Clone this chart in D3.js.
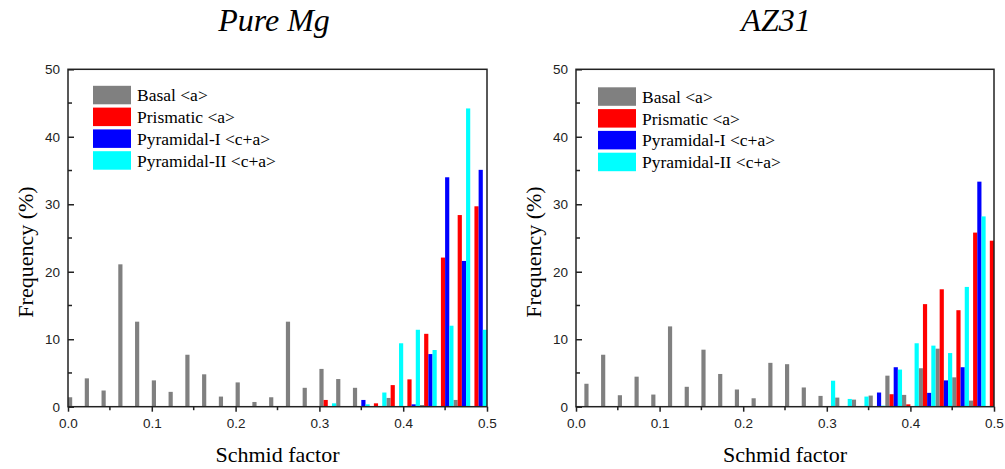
<!DOCTYPE html>
<html>
<head>
<meta charset="utf-8">
<script src="https://cdn.jsdelivr.net/npm/d3@7"></script>
<style>
  body { margin: 0; background: #fff; }
  svg { display: block; }
</style>
</head>
<body>
<svg id="chart"></svg>
<script>
// Slip systems and their colours
const systems = ["Basal <a>", "Prismatic <a>", "Pyramidal-I <c+a>", "Pyramidal-II <c+a>"];
const colors = ["#808080", "#ff0000", "#0000ff", "#00ffff"];

// Pure Mg: bins of width 0.02, centres 0.01 ... 0.49
const pureCenters = [0.01, 0.03, 0.05, 0.07, 0.09, 0.11, 0.13, 0.15, 0.17, 0.19, 0.21, 0.23, 0.25,
                     0.27, 0.29, 0.31, 0.33, 0.35, 0.37, 0.39, 0.41, 0.43, 0.45, 0.47, 0.49];
const pureBasal = [1.4, 4.2, 2.4, 21.1, 12.6, 3.9, 2.2, 7.7, 4.8, 1.5, 3.6, 0.7, 1.4,
                   12.6, 2.8, 5.6, 4.1, 2.8, 0, 1.3, 0, 0.25, 0, 1.0, 0];
const purePrism = [0, 0, 0, 0, 0, 0, 0, 0, 0, 0, 0, 0, 0,
                   0, 0, 1.0, 0, 0, 0.5, 3.2, 4.05, 10.8, 22.1, 28.4, 29.7];
const purePyr1  = [0, 0, 0, 0, 0, 0, 0, 0, 0, 0, 0, 0, 0,
                   0, 0, 0, 0, 1.0, 0, 0, 0.35, 7.8, 34.0, 21.6, 35.1];
const purePyr2  = [0, 0, 0, 0, 0, 0, 0, 0, 0, 0, 0, 0, 0,
                   0, 0, 0.5, 0, 0.35, 2.1, 9.4, 11.4, 8.4, 12.0, 44.2, 11.4];

// AZ31: bins of width 0.02, centres 0.00 ... 0.50
const azCenters = [0.00, 0.02, 0.04, 0.06, 0.08, 0.10, 0.12, 0.14, 0.16, 0.18, 0.20, 0.22, 0.24,
                   0.26, 0.28, 0.30, 0.32, 0.34, 0.36, 0.38, 0.40, 0.42, 0.44, 0.46, 0.48, 0.50];
const azBasal = [0, 3.4, 7.7, 1.7, 4.45, 1.8, 11.9, 2.95, 8.45, 4.85, 2.55, 1.25, 6.5,
                 6.3, 2.85, 1.6, 1.35, 1.05, 1.65, 4.6, 1.75, 5.7, 8.6, 4.35, 0.9, 0];
const azPrism = [0, 0, 0, 0, 0, 0, 0, 0, 0, 0, 0, 0, 0,
                 0, 0, 0, 0, 0, 0.1, 1.85, 0.35, 15.2, 17.4, 14.3, 25.8, 24.6];
const azPyr1  = [0, 0, 0, 0, 0, 0, 0, 0, 0, 0, 0, 0, 0,
                 0, 0, 0, 0, 0, 2.1, 5.85, 0, 2.05, 3.9, 5.85, 33.35, 0];
const azPyr2  = [0, 0, 0, 0, 0, 0, 0, 0, 0, 0, 0, 0, 0.1,
                 0, 0.1, 3.85, 1.15, 1.5, 0.15, 5.5, 9.4, 9.05, 7.95, 17.75, 28.2, 0];

// Axis ticks
const xTicks = [0.0, 0.1, 0.2, 0.3, 0.4, 0.5];
const xMinor = [0.05, 0.15, 0.25, 0.35, 0.45];
const yTicks = [0, 10, 20, 30, 40, 50];
const yMinor = [5, 15, 25, 35, 45];

const binWidth = 0.02;

const W = 1005, H = 469;
const svg = d3.select("#chart").attr("width", W).attr("height", H);

const serif = "'Liberation Serif', 'Times New Roman', serif";
const sans = "'Liberation Sans', Arial, sans-serif";

const panels = [
  { id: "pure", title: "Pure Mg", titleX: 274, left: 68, right: 487,
    centers: pureCenters, series: [pureBasal, purePrism, purePyr1, purePyr2], legendDx: 25, legendDy: 16.5 },
  { id: "az31", title: "AZ31", titleX: 776, left: 576, right: 994,
    centers: azCenters, series: [azBasal, azPrism, azPyr1, azPyr2], legendDx: 22, legendDy: 18 }
];

const plotTop = 69.3, plotBottom = 406.7;

panels.forEach(p => {
  const x = d3.scaleLinear().domain([0, 0.5]).range([p.left, p.right]);
  const y = d3.scaleLinear().domain([0, 50]).range([plotBottom, plotTop]);
  const slot = binWidth / systems.length;

  // Title
  svg.append("text")
    .attr("x", p.titleX).attr("y", 31)
    .attr("text-anchor", "middle")
    .style("font-family", serif).style("font-style", "italic").style("font-size", "32px")
    .text(p.title);

  // Clip bars to plot area
  svg.append("clipPath").attr("id", "clip-" + p.id)
    .append("rect")
    .attr("x", p.left).attr("y", plotTop)
    .attr("width", p.right - p.left).attr("height", plotBottom - plotTop);

  const bars = svg.append("g").attr("clip-path", `url(#clip-${p.id})`);

  p.series.forEach((vals, k) => {
    bars.selectAll(null)
      .data(vals.map((v, i) => ({ c: p.centers[i], v })).filter(d => d.v > 0))
      .enter().append("rect")
      .attr("x", d => x(d.c - binWidth / 2 + k * slot))
      .attr("width", x(slot) - x(0))
      .attr("y", d => y(d.v))
      .attr("height", d => y(0) - y(d.v))
      .attr("fill", colors[k]);
  });

  // Frame
  svg.append("rect")
    .attr("x", p.left).attr("y", plotTop)
    .attr("width", p.right - p.left).attr("height", plotBottom - plotTop)
    .attr("fill", "none").attr("stroke", "#222").attr("stroke-width", 1.5);

  // X axis (ticks outward)
  const xAxis = svg.append("g").attr("transform", `translate(0,${plotBottom})`)
    .call(d3.axisBottom(x).tickValues(xTicks).tickFormat(d3.format(".1f")).tickSize(5).tickPadding(7));
  xAxis.select(".domain").remove();
  xAxis.selectAll("line").attr("stroke", "#222").attr("stroke-width", 1.5);
  xAxis.selectAll("text").style("font-family", sans).style("font-size", "13.5px").attr("fill", "#222");
  svg.append("g").selectAll("line").data(xMinor).enter().append("line")
    .attr("x1", d => x(d)).attr("x2", d => x(d))
    .attr("y1", plotBottom).attr("y2", plotBottom + 3.5)
    .attr("stroke", "#222").attr("stroke-width", 1.5);

  // Y axis (ticks inward)
  const yAxis = svg.append("g").attr("transform", `translate(${p.left},0)`)
    .call(d3.axisLeft(y).tickValues(yTicks).tickSize(-6).tickPadding(8));
  yAxis.select(".domain").remove();
  yAxis.selectAll("line").attr("stroke", "#222").attr("stroke-width", 1.5);
  yAxis.selectAll("text").attr("x", -8)
    .style("font-family", sans).style("font-size", "13.5px").attr("fill", "#222");
  svg.append("g").selectAll("line").data(yMinor).enter().append("line")
    .attr("x1", p.left).attr("x2", p.left + 4)
    .attr("y1", d => y(d)).attr("y2", d => y(d))
    .attr("stroke", "#222").attr("stroke-width", 1.5);

  // Axis titles
  svg.append("text")
    .attr("x", (p.left + p.right) / 2).attr("y", 462)
    .attr("text-anchor", "middle")
    .style("font-family", serif).style("font-size", "22px")
    .text("Schmid factor");

  svg.append("text")
    .attr("transform", `translate(${p.left - 35},252) rotate(-90)`)
    .attr("text-anchor", "middle")
    .style("font-family", serif).style("font-size", "22px")
    .text("Frequency (%)");

  // Legend
  const lg = svg.append("g").attr("transform", `translate(${p.left + p.legendDx},${plotTop + p.legendDy})`);
  systems.forEach((s, k) => {
    lg.append("rect")
      .attr("x", 0).attr("y", k * 21.8)
      .attr("width", 38).attr("height", 18.5)
      .attr("fill", colors[k]);
    lg.append("text")
      .attr("x", 44).attr("y", k * 21.8 + 15.5)
      .style("font-family", serif).style("font-size", "17.5px")
      .text(s);
  });
});
</script>
</body>
</html>
